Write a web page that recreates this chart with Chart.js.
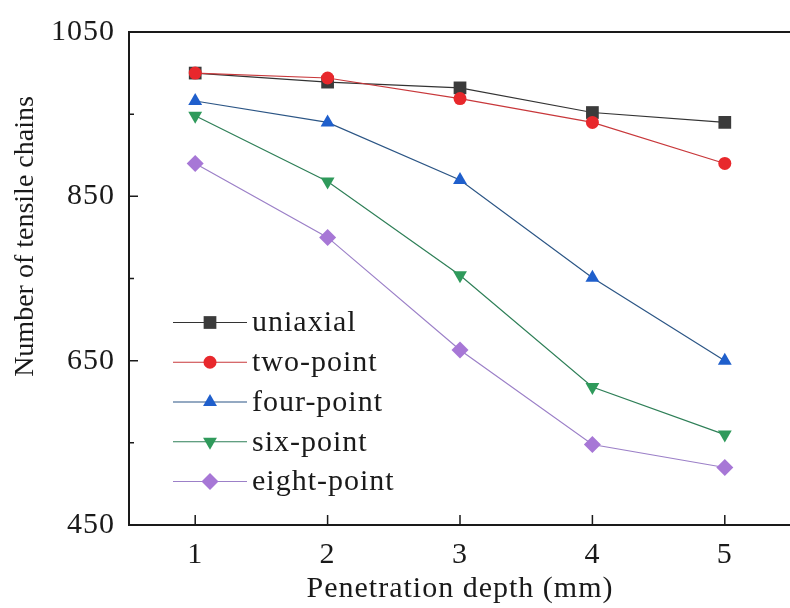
<!DOCTYPE html>
<html><head><meta charset="utf-8">
<script src="https://cdn.jsdelivr.net/npm/chart.js@4/dist/chart.umd.min.js"></script>
<style>
html,body{margin:0;padding:0;overflow:hidden;background:#fff;width:790px;height:608px}
#wrap{width:800px;height:608px}
</style></head>
<body><div id="wrap"><canvas id="c" width="800" height="608"></canvas></div>
<script>
// ---- data ----
const depths = ['1', '2', '3', '4', '5'];
const seriesNames = ['uniaxial', 'two-point', 'four-point', 'six-point', 'eight-point'];
const uniaxial   = [1000, 989, 982, 952, 940];
const twoPoint   = [1000, 994, 969, 940, 890];
const fourPoint  = [966, 940, 870, 751, 650];
const sixPoint   = [948, 868, 754, 618, 560];
const eightPoint = [890, 800, 663, 548, 520];
const yTickValues = [450, 650, 850, 1050];
const yMinorValues = [550, 750, 950];
const xTitle = 'Penetration depth (mm)';
const yTitle = 'Number of tensile chains';

// ---- styles ----
const seriesValues = [uniaxial, twoPoint, fourPoint, sixPoint, eightPoint];
const markerColors = ['#3b3b3b', '#e8282c', '#1f5fcc', '#2f9a5b', '#a777d6'];
const lineColors   = ['#333333', '#c8383b', '#2b5585', '#2e7f57', '#9c80c8'];
const pointStyles  = ['rect', 'circle', 'triangle', 'triangle', 'rectRot'];
const rotations    = [0, 0, 0, 180, 0];
const radii        = [9, 6.5, 8, 8, 8.5];
const drawOrder    = [2, 1, 3, 4, 5];

const FONT = '"Liberation Serif", "Times New Roman", serif';
Chart.defaults.font.family = FONT;
Chart.defaults.font.size = 30;
Chart.defaults.color = '#1a1a1a';

function drawMarker(ctx, style, rot, r, x, y, fill) {
  ctx.save();
  ctx.fillStyle = fill;
  ctx.translate(x, y);
  ctx.rotate(rot * Math.PI / 180);
  ctx.beginPath();
  if (style === 'rect') {
    const s = Math.SQRT1_2 * r;
    ctx.rect(-s, -s, 2 * s, 2 * s);
  } else if (style === 'circle') {
    ctx.arc(0, 0, r, 0, Math.PI * 2);
  } else if (style === 'triangle') {
    for (let k = 0; k < 3; k++) {
      const a = -Math.PI / 2 + k * 2 * Math.PI / 3;
      const px = Math.cos(a) * r, py = Math.sin(a) * r;
      k === 0 ? ctx.moveTo(px, py) : ctx.lineTo(px, py);
    }
    ctx.closePath();
  } else if (style === 'rectRot') {
    ctx.moveTo(0, -r); ctx.lineTo(r, 0); ctx.lineTo(0, r); ctx.lineTo(-r, 0); ctx.closePath();
  }
  ctx.fill();
  ctx.restore();
}

const framePlugin = {
  id: 'frame',
  beforeDraw(chart) {
    chart.ctx.letterSpacing = '1px';
  },
  afterDraw(chart) {
    const ctx = chart.ctx;
    const {left, top, right, bottom} = chart.chartArea;
    ctx.save();
    ctx.strokeStyle = '#1a1a1a';
    ctx.lineWidth = 2;
    ctx.strokeRect(left, top, right - left, bottom - top);
    ctx.lineWidth = 1.5;
    const ys = chart.scales.y, xs = chart.scales.x;
    ctx.beginPath();
    yTickValues.forEach(v => { const p = ys.getPixelForValue(v); ctx.moveTo(left, p); ctx.lineTo(left + 9, p); });
    yMinorValues.forEach(v => { const p = ys.getPixelForValue(v); ctx.moveTo(left, p); ctx.lineTo(left + 5, p); });
    depths.forEach((d, i) => { const p = xs.getPixelForValue(i); ctx.moveTo(p, bottom); ctx.lineTo(p, bottom - 10); });
    ctx.stroke();

    // y title
    ctx.letterSpacing = '0px';
    ctx.fillStyle = '#1a1a1a';
    ctx.font = '28px ' + FONT;
    ctx.textAlign = 'center';
    ctx.textBaseline = 'middle';
    ctx.translate(26, 236.5);
    ctx.rotate(-Math.PI / 2);
    ctx.fillText(yTitle, 0, 0);
    ctx.restore();

    // legend
    ctx.save();
    ctx.letterSpacing = '1px';
    ctx.font = '30px ' + FONT;
    ctx.textBaseline = 'middle';
    ctx.textAlign = 'left';
    chart.data.datasets.forEach((ds, i) => {
      const y = top + 290.5 + i * 39.75;
      ctx.strokeStyle = lineColors[i];
      ctx.lineWidth = 1.2;
      ctx.beginPath(); ctx.moveTo(left + 44, y); ctx.lineTo(left + 118, y); ctx.stroke();
      drawMarker(ctx, pointStyles[i], rotations[i], radii[i], left + 81, y, markerColors[i]);
      ctx.fillStyle = '#1a1a1a';
      ctx.fillText(ds.label, left + 123, y + 1);
    });
    ctx.restore();
  }
};

new Chart(document.getElementById('c'), {
  type: 'line',
  data: {
    labels: depths,
    datasets: seriesNames.map((name, i) => ({
      label: name,
      data: seriesValues[i],
      borderColor: lineColors[i],
      borderWidth: 1.2,
      pointStyle: pointStyles[i],
      pointRotation: rotations[i],
      pointRadius: radii[i],
      pointBackgroundColor: markerColors[i],
      pointBorderColor: markerColors[i],
      pointBorderWidth: 0,
      tension: 0,
      fill: false,
      order: drawOrder[i]
    }))
  },
  options: {
    responsive: false,
    devicePixelRatio: 1,
    animation: false,
    layout: { padding: { left: 0, top: 27.5, right: 7, bottom: 0 } },
    plugins: { legend: { display: false }, tooltip: { enabled: false } },
    scales: {
      x: {
        type: 'category',
        offset: true,
        grid: { display: false, drawTicks: false },
        border: { display: false },
        ticks: { padding: 12, font: { size: 30 } },
        title: { display: true, text: xTitle, font: { size: 30 }, padding: { top: 0, bottom: 1 } },
        afterFit(s) { s.height = 83; }
      },
      y: {
        min: 450, max: 1050,
        grid: { display: false, drawTicks: false },
        border: { display: false },
        ticks: { stepSize: 200, padding: 14, font: { size: 30 }, callback: v => String(v) },
        afterFit(s) { s.width = 129; }
      }
    }
  },
  plugins: [framePlugin]
});
</script>
</body></html>
